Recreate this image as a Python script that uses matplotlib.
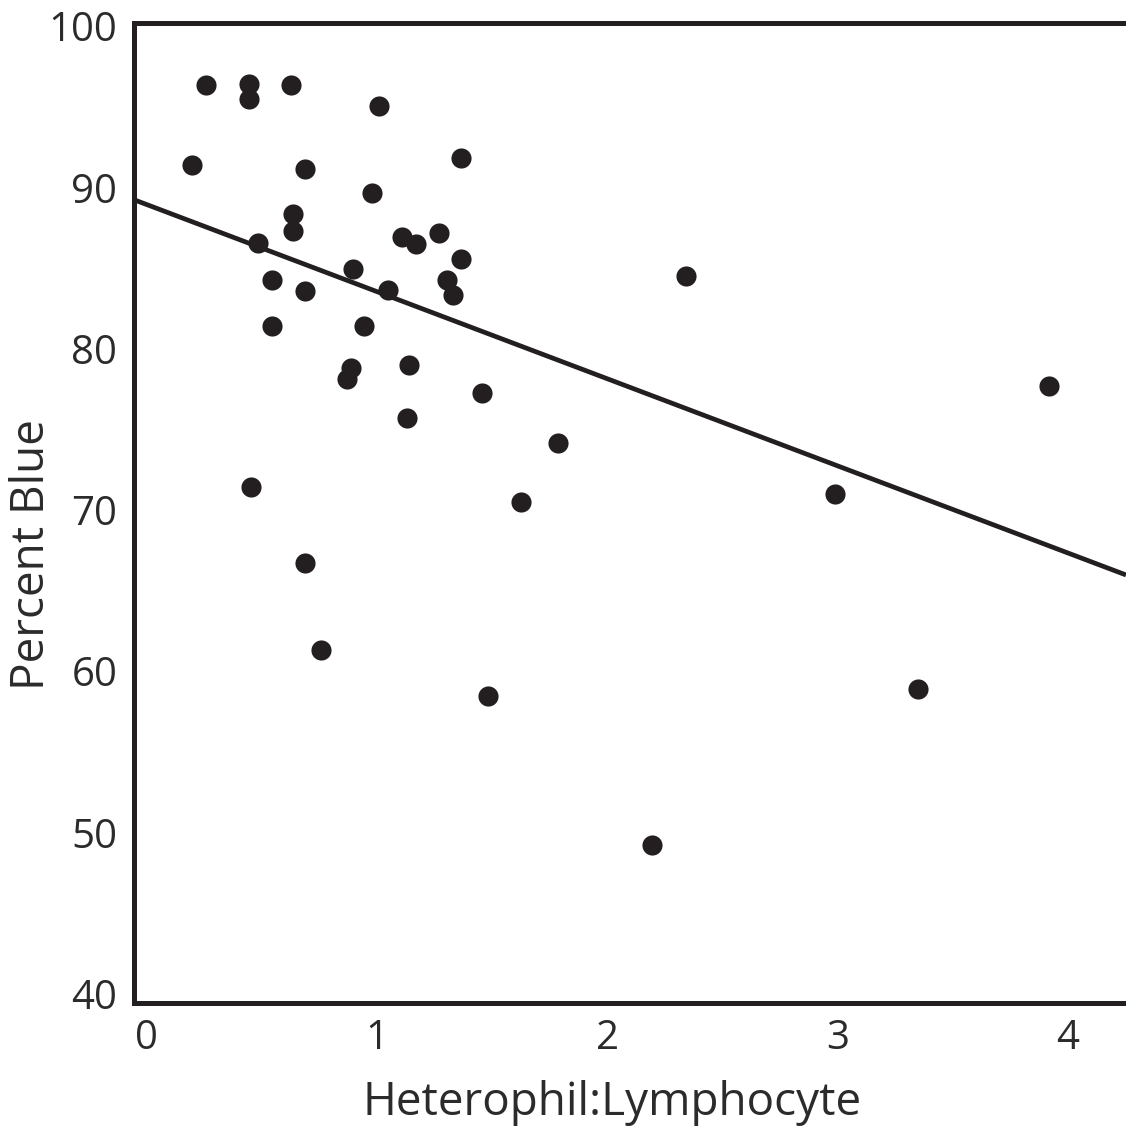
import matplotlib
matplotlib.use("Agg")
import matplotlib.pyplot as plt
import numpy as np

# Data
hl_ratio = [0.256, 0.444, 0.444, 0.625, 1.008, 0.194, 0.688, 1.364, 0.976, 0.633,
            0.633, 0.482, 1.106, 1.168, 1.269, 1.364, 0.896, 0.544, 0.686, 1.048,
            1.302, 1.330, 0.544, 0.944, 2.341, 1.138, 0.885, 0.867, 1.454, 3.917,
            1.128, 1.786, 0.450, 2.988, 1.623, 0.686, 0.754, 3.349, 1.482, 2.193]
percent_blue = [96.34, 96.40, 95.46, 96.34, 95.06, 91.38, 91.15, 91.80, 89.63, 88.34,
                87.29, 86.53, 86.94, 86.48, 87.15, 85.54, 84.93, 84.25, 83.59, 83.63,
                84.25, 83.32, 81.42, 81.42, 84.50, 78.98, 78.78, 78.10, 77.23, 77.68,
                75.68, 74.13, 71.40, 70.99, 70.51, 66.71, 61.31, 58.90, 58.48, 49.23]
fit_intercept = 88.93
fit_slope = -5.40
x_ticks = [0, 1, 2, 3, 4]
y_ticks = [40, 50, 60, 70, 80, 90, 100]

plt.rcParams['font.family'] = ['Open Sans', 'DejaVu Sans']
ink = '#231f20'
text_col = '#2b2b2b'

W, H = 1126, 1133
fig = plt.figure(figsize=(W / 100, H / 100), dpi=100)
ax = fig.add_axes([134 / W, 1 - 1003 / H, 1 - 134 / W, (1003 - 23) / H])

xmin, xmax = -0.056, 4.252
ax.set_xlim(xmin, xmax)
ax.set_ylim(39.43, 100.19)

xs = np.array([xmin, xmax])
ax.plot(xs, fit_intercept + fit_slope * xs, color=ink, lw=3.4, solid_capstyle='butt', zorder=2)
ax.plot(hl_ratio, percent_blue, 'o', color=ink, markersize=14.5, markeredgewidth=0, zorder=3)

for s in ['left', 'top', 'bottom']:
    ax.spines[s].set_linewidth(3.6)
    ax.spines[s].set_color(ink)
ax.spines['right'].set_visible(False)

ax.set_xticks(x_ticks)
ax.set_yticks(y_ticks)
ax.set_xticklabels([str(v) for v in x_ticks])
ax.set_yticklabels([str(v) for v in y_ticks])
ax.tick_params(axis='both', length=0, labelsize=29, labelcolor=text_col)
ax.tick_params(axis='y', pad=12)
ax.tick_params(axis='x', pad=11)

ax.set_xlabel('Heterophil:Lymphocyte', fontsize=33, color=text_col)
ax.xaxis.label.set_va('baseline')
ax.xaxis.set_label_coords(0.482, -0.1143)

ax.set_ylabel('Percent Blue', fontsize=33, color=text_col)
ax.yaxis.label.set_va('baseline')
ax.yaxis.set_label_coords(-0.0907, 0.458)

fig.savefig('out.png', dpi=100)
